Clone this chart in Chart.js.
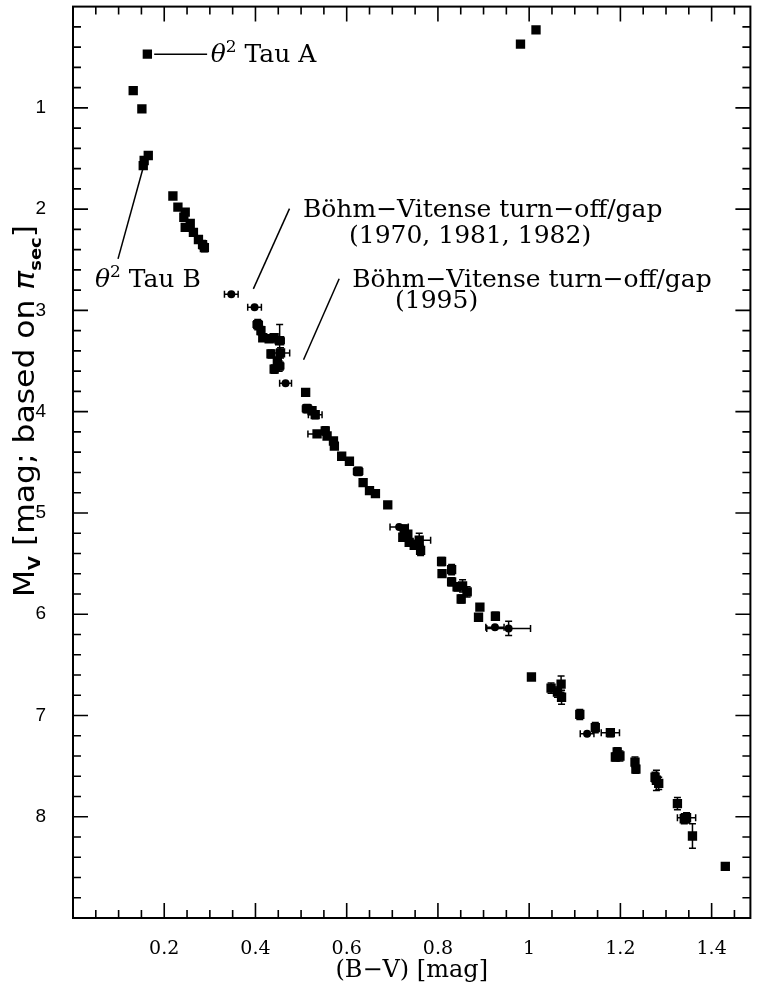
<!DOCTYPE html>
<html>
<head>
<meta charset="utf-8">
<script src="https://cdn.jsdelivr.net/npm/chart.js@4.4.1/dist/chart.umd.min.js"></script>
<style>
  html, body { margin: 0; padding: 0; background: #fff; }
  canvas { display: block; }
</style>
</head>
<body>
<canvas id="hrd" width="757" height="987"></canvas>
<script>
// Colour index (B-V) and absolute magnitude M_V of the stars drawn as filled squares
const squareBV = [0.163, 0.132, 0.151, 0.165, 0.156, 0.154,
  0.219, 0.230, 0.246, 0.243, 0.257, 0.246, 0.264, 0.275, 0.284, 0.288,
  0.405, 0.412, 0.416, 0.430, 0.441, 0.453, 0.434, 0.455, 0.448, 0.441, 0.452,
  0.510, 0.513, 0.524, 0.531, 0.535, 0.553, 0.557, 0.571, 0.573, 0.589, 0.606, 0.625,
  0.636, 0.650, 0.663, 0.690,
  0.726, 0.734, 0.723, 0.737, 0.759, 0.762, 0.748,
  0.808, 0.809, 0.830, 0.830, 0.842, 0.854, 0.864, 0.851, 0.892, 0.889, 0.926,
  1.005, 1.048, 1.070, 1.071, 1.062, 1.111, 1.145, 1.178, 1.193, 1.199, 1.189,
  1.232, 1.234, 1.279, 1.276, 1.284, 1.325, 1.340, 1.345, 1.358, 1.430,
  0.981, 1.015];
const squareMV = [0.47, 0.83, 1.01, 1.47, 1.52, 1.57,
  1.87, 1.98, 2.03, 2.08, 2.14, 2.18, 2.23, 2.30, 2.35, 2.38,
  3.14, 3.20, 3.27, 3.28, 3.27, 3.30, 3.43, 3.42, 3.50, 3.58, 3.55,
  3.81, 3.97, 3.99, 4.03, 4.22, 4.19, 4.24, 4.29, 4.34, 4.44, 4.49, 4.59,
  4.70, 4.78, 4.81, 4.92,
  5.16, 5.21, 5.24, 5.29, 5.27, 5.37, 5.32,
  5.48, 5.60, 5.56, 5.68, 5.73, 5.72, 5.78, 5.85, 5.93, 6.03, 6.02,
  6.62, 6.73, 6.69, 6.82, 6.77, 6.99, 7.12, 7.17, 7.36, 7.40, 7.41,
  7.46, 7.53, 7.64, 7.61, 7.67, 7.87, 8.02, 8.01, 8.19, 8.49,
  0.37, 0.23];
const squareErrBV = [0, 0, 0, 0, 0, 0,
  0, 0, 0, 0, 0, 0, 0, 0, 0, 0,
  0.010, 0, 0, 0, 0, 0.010, 0, 0.020, 0, 0, 0.010,
  0, 0.010, 0, 0.015, 0.020, 0, 0, 0, 0, 0, 0, 0.010,
  0, 0, 0, 0,
  0, 0, 0, 0, 0.025, 0, 0,
  0, 0, 0, 0, 0, 0, 0.008, 0, 0, 0, 0,
  0, 0, 0, 0, 0, 0, 0, 0.020, 0, 0, 0,
  0, 0, 0, 0, 0, 0, 0, 0.020, 0, 0,
  0, 0];
const squareErrMV = [0, 0, 0, 0, 0, 0,
  0, 0, 0, 0, 0, 0, 0, 0, 0.04, 0.04,
  0.05, 0.04, 0, 0, 0.04, 0.16, 0.04, 0.05, 0, 0.04, 0.05,
  0, 0.04, 0, 0.04, 0, 0.04, 0, 0, 0, 0, 0, 0.04,
  0, 0, 0, 0,
  0.04, 0, 0, 0, 0.07, 0.05, 0,
  0.04, 0, 0.05, 0.04, 0.04, 0.06, 0.05, 0.04, 0, 0, 0.04,
  0, 0.05, 0.08, 0.07, 0.05, 0.05, 0.05, 0.04, 0.04, 0.05, 0.04,
  0.05, 0.04, 0.10, 0.05, 0.06, 0.06, 0.05, 0.05, 0.12, 0,
  0, 0];

// Stars drawn as dots
const dotBV = [0.347, 0.398, 0.466, 0.715, 0.925, 0.955, 1.127];
const dotMV = [2.84, 2.97, 3.72, 5.14, 6.13, 6.14, 7.18];
const dotErrBV = [0.015, 0.015, 0.013, 0.020, 0.020, 0.048, 0.015];
const dotErrMV = [0, 0, 0, 0, 0, 0.07, 0];

// Labelled tick values
const xTickValues = [0.2, 0.4, 0.6, 0.8, 1, 1.2, 1.4];
const yTickValues = [1, 2, 3, 4, 5, 6, 7, 8];

const SERIF = "'DejaVu Serif', 'Liberation Serif', serif";
const SANS = "'Liberation Sans', 'DejaVu Sans', sans-serif";
const NARROW = "'Liberation Sans Narrow', 'DejaVu Sans Condensed', 'Liberation Sans', sans-serif";

const toPoints = (bv, mv, ebv, emv) =>
  bv.map((v, i) => ({ x: v, y: mv[i], ex: ebv[i], ey: emv[i] }));

// Text callouts, placed in data coordinates; 'sup' segments are raised and smaller
const notes = [
  { leader: [[0.178, 0.47], [0.294, 0.47]],
    lines: [{ x: 0.302, y: 0.545, segs: [['θ', 'italic'], ['2', 'sup'], [' Tau A', '']] }] },
  { leader: [[0.153, 1.604], [0.0987, 2.491]],
    lines: [{ x: 0.048, y: 2.765, segs: [['θ', 'italic'], ['2', 'sup'], [' Tau B', '']] }] },
  { leader: [[0.4746, 1.995], [0.3954, 2.787]],
    lines: [{ x: 0.504, y: 2.081, segs: [['Böhm−Vitense turn−off/gap', '']] },
            { x: 0.605, y: 2.330, segs: [['(1970, 1981, 1982)', '']] }] },
  { leader: [[0.5835, 2.688], [0.5054, 3.487]],
    lines: [{ x: 0.612, y: 2.771, segs: [['Böhm−Vitense turn−off/gap', '']] },
            { x: 0.706, y: 2.980, segs: [['(1995)', '']] }] }
];

// Error bars for every point that carries an uncertainty
const errorBars = {
  id: 'errorBars',
  afterDatasetsDraw(chart) {
    const { ctx, scales: { x, y } } = chart;
    const cap = 3.5;
    ctx.save();
    ctx.strokeStyle = '#000';
    ctx.lineWidth = 1.5;
    chart.data.datasets.forEach(ds => {
      ds.data.forEach(p => {
        const px = x.getPixelForValue(p.x);
        const py = y.getPixelForValue(p.y);
        ctx.beginPath();
        if (p.ex) {
          const a = x.getPixelForValue(p.x - p.ex);
          const b = x.getPixelForValue(p.x + p.ex);
          ctx.moveTo(a, py); ctx.lineTo(b, py);
          ctx.moveTo(a, py - cap); ctx.lineTo(a, py + cap);
          ctx.moveTo(b, py - cap); ctx.lineTo(b, py + cap);
        }
        if (p.ey) {
          const a = y.getPixelForValue(p.y - p.ey);
          const b = y.getPixelForValue(p.y + p.ey);
          ctx.moveTo(px, a); ctx.lineTo(px, b);
          ctx.moveTo(px - cap, a); ctx.lineTo(px + cap, a);
          ctx.moveTo(px - cap, b); ctx.lineTo(px + cap, b);
        }
        ctx.stroke();
      });
    });
    ctx.restore();
  }
};

// Boxed frame with inward major and minor ticks on all four sides
const frame = {
  id: 'frame',
  afterDraw(chart) {
    const { ctx, chartArea: ca, scales: { x, y } } = chart;
    ctx.save();
    ctx.strokeStyle = '#000';
    ctx.lineWidth = 2;
    ctx.strokeRect(ca.left, ca.top, ca.right - ca.left, ca.bottom - ca.top);
    ctx.lineWidth = 1.6;
    ctx.beginPath();
    for (let i = 1; i * 0.05 < x.max; i++) {
      const px = x.getPixelForValue(i * 0.05);
      const len = i % 4 === 0 ? 15 : 8;
      ctx.moveTo(px, ca.bottom); ctx.lineTo(px, ca.bottom - len);
      ctx.moveTo(px, ca.top); ctx.lineTo(px, ca.top + len);
    }
    for (let j = 1; j * 0.2 < y.max - 1e-9; j++) {
      const py = y.getPixelForValue(j * 0.2);
      const len = j % 5 === 0 ? 15 : 8;
      ctx.moveTo(ca.left, py); ctx.lineTo(ca.left + len, py);
      ctx.moveTo(ca.right, py); ctx.lineTo(ca.right - len, py);
    }
    ctx.stroke();
    ctx.restore();
  }
};

function drawSegs(ctx, x0, y0, segs, size, family) {
  let cx = x0;
  segs.forEach(([t, style]) => {
    let dy = 0, s = size, st = style;
    if (style === 'sup') { s = Math.round(size * 0.68); dy = -size * 0.38; st = ''; }
    ctx.font = (st ? st + ' ' : '') + s + 'px ' + family;
    ctx.fillText(t, cx, y0 + dy);
    cx += ctx.measureText(t).width;
  });
}

// Callout texts and leader lines
const callouts = {
  id: 'callouts',
  afterDraw(chart) {
    const { ctx, scales: { x, y } } = chart;
    ctx.save();
    ctx.fillStyle = '#000';
    ctx.strokeStyle = '#000';
    ctx.lineWidth = 1.5;
    ctx.textBaseline = 'alphabetic';
    ctx.textAlign = 'left';
    notes.forEach(n => {
      ctx.beginPath();
      ctx.moveTo(x.getPixelForValue(n.leader[0][0]), y.getPixelForValue(n.leader[0][1]));
      ctx.lineTo(x.getPixelForValue(n.leader[1][0]), y.getPixelForValue(n.leader[1][1]));
      ctx.stroke();
      n.lines.forEach(l => {
        drawSegs(ctx, x.getPixelForValue(l.x), y.getPixelForValue(l.y), l.segs, 25, SERIF);
      });
    });
    ctx.restore();
  }
};

// Vertical axis title with subscripts, centred beside the plot and stretched to its span
const yTitle = {
  id: 'yTitle',
  afterDraw(chart) {
    const { ctx } = chart;
    const big = 28, small = 16, span = 372;
    const parts = [
      ['M', big, 0, ''], ['V', small, 6, 'bold'],
      [' [mag; based on ', big, 0, ''], ['π', big, 0, 'italic'],
      ['sec', small, 7, 'bold'], [']', big, 0, '']
    ];
    ctx.save();
    ctx.fillStyle = '#000';
    ctx.textBaseline = 'alphabetic';
    ctx.textAlign = 'left';
    let total = 0;
    parts.forEach(([t, s, , st]) => {
      ctx.font = (st ? st + ' ' : '') + s + 'px ' + NARROW;
      total += ctx.measureText(t).width;
    });
    ctx.translate(34, 411);
    ctx.rotate(-Math.PI / 2);
    ctx.scale(span / total, 1);
    let cx = -total / 2;
    parts.forEach(([t, s, dy, st]) => {
      ctx.font = (st ? st + ' ' : '') + s + 'px ' + NARROW;
      ctx.fillText(t, cx, dy);
      cx += ctx.measureText(t).width;
    });
    ctx.restore();
  }
};

const noPad = s => { s.paddingTop = 0; s.paddingBottom = 0; s.paddingLeft = 0; s.paddingRight = 0; };

new Chart(document.getElementById('hrd'), {
  type: 'scatter',
  data: {
    datasets: [
      {
        label: 'squares',
        data: toPoints(squareBV, squareMV, squareErrBV, squareErrMV),
        pointStyle: 'rect',
        pointRadius: 6.6,
        pointHoverRadius: 6.6,
        backgroundColor: '#000',
        borderColor: '#000',
        borderWidth: 0
      },
      {
        label: 'dots',
        data: toPoints(dotBV, dotMV, dotErrBV, dotErrMV),
        pointStyle: 'circle',
        pointRadius: 4,
        pointHoverRadius: 4,
        backgroundColor: '#000',
        borderColor: '#000',
        borderWidth: 0
      }
    ]
  },
  options: {
    responsive: false,
    animation: false,
    devicePixelRatio: 1,
    layout: { padding: { top: 5, right: 1, left: 0, bottom: 0 } },
    plugins: { legend: { display: false }, tooltip: { enabled: false } },
    scales: {
      x: {
        type: 'linear',
        min: 0,
        max: 1.485,
        grid: { display: false },
        border: { display: false },
        afterBuildTicks: s => { s.ticks = xTickValues.map(v => ({ value: v })); },
        afterFit: s => { s.height = 69; noPad(s); },
        ticks: {
          autoSkip: false,
          maxRotation: 0,
          padding: 12,
          color: '#000',
          font: { family: SERIF, size: 19 },
          callback: v => String(v)
        },
        title: {
          display: true,
          text: '(B−V) [mag]',
          color: '#000',
          font: { family: SERIF, size: 24 },
          padding: { top: 0, bottom: 2 }
        }
      },
      y: {
        type: 'linear',
        reverse: true,
        min: 0,
        max: 9,
        grid: { display: false },
        border: { display: false },
        afterBuildTicks: s => { s.ticks = yTickValues.map(v => ({ value: v })); },
        afterFit: s => { s.width = 73; noPad(s); },
        ticks: {
          autoSkip: false,
          padding: 19,
          color: '#000',
          font: { family: SANS, size: 19 },
          callback: v => String(v)
        }
      }
    }
  },
  plugins: [errorBars, frame, callouts, yTitle]
});
</script>
</body>
</html>
